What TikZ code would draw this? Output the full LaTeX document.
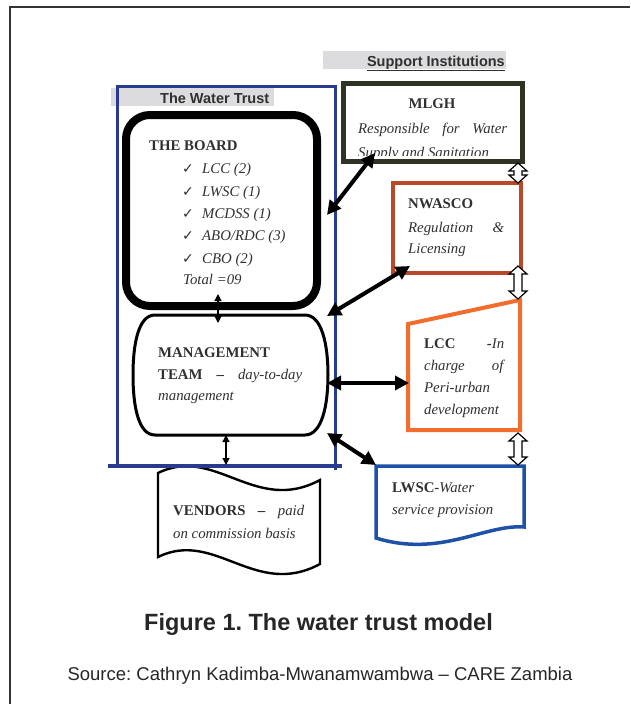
\documentclass[tikz,border=0pt]{standalone}
\usepackage{fontspec}
\setmainfont{Liberation Serif}
\newfontfamily\capfont{Liberation Sans}
\newfontfamily\symfont{DejaVu Sans}
\usetikzlibrary{arrows.meta}
\definecolor{txt}{HTML}{303030}
\definecolor{trustblue}{HTML}{283B8F}
\definecolor{mlghc}{HTML}{2F3323}
\definecolor{nwc}{HTML}{B9482A}
\definecolor{lccc}{HTML}{F26D2B}
\definecolor{lwscc}{HTML}{1E52A8}
\definecolor{barg}{HTML}{DCDCDE}
\definecolor{framec}{HTML}{333333}
\newcommand\myfs{\fontsize{14.8}{18}\selectfont}
\newcommand\ck{{\symfont\fontsize{14}{15}\selectfont ✓}}
\newcommand{\hdarrow}[3]{%
  \draw[line width=1.2pt, fill=white, line join=miter]
    (#1,#2) -- ++(9,8) -- ++(-5,0) -- (#1+4,#3-8) -- ++(5,0) -- (#1,#3)
    -- ++(-9,-8) -- ++(5,0) -- (#1-4,#2+8) -- ++(-5,0) -- cycle;}
\begin{document}
\frenchspacing
\begin{tikzpicture}[x=1pt,y=-1pt,
  every node/.style={inner sep=0pt,text=txt},
  lbl/.style={anchor=base west,font=\myfs},
  bigarrow/.style={line width=4pt,{Triangle[length=14pt,width=14pt]}-{Triangle[length=14pt,width=14pt]}},
  thinarrow/.style={line width=1.2pt,{Triangle[length=7pt,width=7pt]}-{Triangle[length=7pt,width=7pt]}},
  boxline/.style={line join=miter}]
\useasboundingbox (0,0) rectangle (630,704);
% frame
\draw[framec,line width=1.5pt] (10,704) -- (10,7) -- (630,7);
% header bars
\fill[barg] (323,51) rectangle (506,69);
\node[anchor=base east,font=\capfont\bfseries\fontsize{14.5}{16}\selectfont] (sup) at (505,66) {\underline{Support Institutions}};
\fill[barg] (111,88) rectangle (274,106);
\node[anchor=base west,font=\capfont\bfseries\fontsize{14.5}{16}\selectfont] (wt) at (160,103) {The Water Trust};
% vendors (behind blue line)
\draw[line width=2.4pt,fill=white] (158,473) .. controls (215,445) and (255,515) .. (320,480)
  -- (320,564) .. controls (255,599) and (215,529) .. (158,557) -- cycle;
% water trust frame
\draw[trustblue,line width=3pt] (117,466) -- (117,86) -- (335,86) -- (335,470);
\draw[trustblue,line width=3.5pt] (108,466) -- (342,466);
% board
\node[draw,line width=8pt,rounded corners=24pt,minimum width=191pt,minimum height=191pt] (board) at (221.5,210.5) {};
\node[lbl] (tbh) at (149,150) {\textbf{THE BOARD}};
\node[lbl] (c1) at (182,173) {\ck};\node[lbl] (b1) at (202,173) {\textit{LCC (2)}};
\node[lbl] (c2) at (182,196) {\ck};\node[lbl] (b2) at (202,196) {\textit{LWSC (1)}};
\node[lbl] (c3) at (182,218) {\ck};\node[lbl] (b3) at (202,218) {\textit{MCDSS (1)}};
\node[lbl] (c4) at (182,240) {\ck};\node[lbl] (b4) at (202,240) {\textit{ABO/RDC (3)}};
\node[lbl] (c5) at (182,263) {\ck};\node[lbl] (b5) at (202,263) {\textit{CBO (2)}};
\node[lbl] (tot) at (183,284) {\textit{Total =09}};
% management
\draw[line width=3pt] (155,315) -- (305,315) .. controls (322,315) and (328,345) .. (328,375)
  .. controls (328,405) and (322,435) .. (305,435) -- (155,435)
  .. controls (138,435) and (133,405) .. (133,375) .. controls (133,345) and (138,315) .. (155,315) -- cycle;
\node[lbl] (m1) at (158,357) {\textbf{MANAGEMENT}};
\node[lbl] (m2) at (158,379) {\makebox[144pt][s]{\textbf{TEAM} \textbf{–} \textit{day-to-day}}};
\node[lbl] (m3) at (158,400) {\textit{management}};
% vendors text
\node[lbl] (v1) at (173,515) {\makebox[131pt][s]{\textbf{VENDORS} \textbf{–} \textit{paid}}};
\node[lbl] (v2) at (173,538) {\textit{on commission basis}};
% MLGH
\node[draw=mlghc,line width=5pt,boxline,minimum width=179pt,minimum height=78pt] (mlgh) at (432.5,122) {};
\node[anchor=base,font=\myfs] (mlghh) at (432,108) {\textbf{MLGH}};
\node[lbl] (ml1) at (358,133) {\makebox[149pt][s]{\textit{Responsible for Water}}};
\begin{scope}
\clip (345,85) rectangle (520,155);
\node[lbl] (ml2) at (358,157) {\textit{Supply and Sanitation}};
\end{scope}
% NWASCO
\node[draw=nwc,line width=4pt,boxline,minimum width=128pt,minimum height=90pt] (nw) at (457,228) {};
\node[lbl] (n1) at (408,208) {\textbf{NWASCO}};
\node[lbl] (n2) at (408,232) {\makebox[96pt][s]{\textit{Regulation \&}}};
\node[lbl] (n3) at (408,253) {\textit{Licensing}};
% LCC
\draw[lccc,line width=4pt,boxline] (408,324) -- (520,300) -- (520,430) -- (408,430) -- cycle;
\node[lbl] (l1) at (424,348) {\makebox[80pt][s]{\textbf{LCC} \textbf{-}\textit{In}}};
\node[lbl] (l2) at (424,370) {\makebox[81pt][s]{\textit{charge of}}};
\node[lbl] (l3) at (424,392) {\textit{Peri-urban}};
\node[lbl] (l4) at (424,414) {\textit{development}};
% LWSC
\draw[lwscc,line width=3.5pt,boxline] (376,466) -- (524,466) -- (524,527)
  .. controls (485,524) and (440,558) .. (376,538) -- cycle;
\node[lbl] (w1) at (392,492) {\textbf{LWSC-}\textit{Water}};
\node[lbl] (w2) at (392,514) {\textit{service provision}};
% connectors
\coordinate (bdS) at (218,294); \coordinate (mtN) at (218,323);
\coordinate (mtS) at (226,435); \coordinate (vdN) at (226,465);
\draw[thinarrow] (bdS) -- (mtN);
\draw[thinarrow] (mtS) -- (vdN);
\coordinate (a1s) at (327,215); \coordinate (a1e) at (375,153);
\coordinate (a2s) at (327,316); \coordinate (a2e) at (410,266);
\coordinate (a3s) at (327,383); \coordinate (a3e) at (409,383);
\coordinate (a4s) at (327,433); \coordinate (a4e) at (376,465);
\draw[bigarrow] (a1s) -- (a1e);
\draw[bigarrow] (a2s) -- (a2e);
\draw[bigarrow] (a3s) -- (a3e);
\draw[bigarrow] (a4s) -- (a4e);
\hdarrow{518}{163}{183}
\hdarrow{518}{266}{299}
\hdarrow{518}{433}{465}
% captions
\node[anchor=base,font=\capfont\bfseries\fontsize{23.5}{26}\selectfont,text=black!85] (cap) at (318.5,630) {Figure 1. The water trust model};
\node[anchor=base,font=\capfont\fontsize{18.5}{20}\selectfont,text=black!85] (src) at (320,680) {Source: Cathryn Kadimba-Mwanamwambwa – CARE Zambia};
\end{tikzpicture}
\end{document}
